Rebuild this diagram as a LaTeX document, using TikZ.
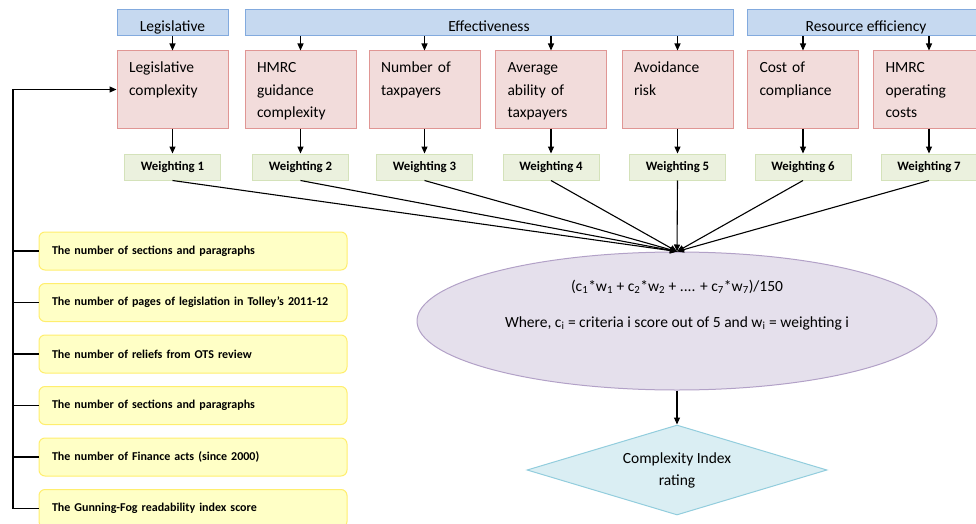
\documentclass[tikz,border=0pt]{standalone}
\usepackage{fontspec}
\setmainfont{Carlito}
\usetikzlibrary{arrows.meta,shapes.geometric}

\definecolor{headfill}{RGB}{198,217,240}
\definecolor{headdraw}{RGB}{130,170,222}
\definecolor{critfill}{RGB}{242,220,219}
\definecolor{critdraw}{RGB}{224,150,148}
\definecolor{weightfill}{RGB}{235,241,222}
\definecolor{weightdraw}{RGB}{212,226,186}
\definecolor{measurefill}{RGB}{255,255,198}
\definecolor{measuredraw}{RGB}{255,238,110}
\definecolor{scorefill}{RGB}{229,224,236}
\definecolor{scoredraw}{RGB}{178,161,199}
\definecolor{ratingfill}{RGB}{218,238,243}
\definecolor{ratingdraw}{RGB}{146,205,221}

\tikzset{
  header/.style={draw=headdraw, fill=headfill, line width=1pt, minimum height=26pt,
    inner sep=0pt, text height=20pt, text depth=2pt, font=\fontsize{15.5}{19}\selectfont},
  crit/.style={draw=critdraw, fill=critfill, line width=1pt, minimum width=111pt,
    minimum height=77pt, text width=87pt, inner xsep=12pt, inner ysep=6pt, align=left,
    text height=16pt, text depth=49pt, font=\fontsize{15.5}{22.5}\selectfont},
  weight/.style={draw=weightdraw, fill=weightfill, line width=1pt, minimum width=96pt,
    minimum height=26pt, inner sep=0pt, font=\bfseries\fontsize{12.8}{15}\selectfont},
  measure/.style={draw=measuredraw, fill=measurefill, line width=1pt, rounded corners=6pt,
    minimum width=308pt, minimum height=38pt, text width=282pt, inner xsep=13pt,
    align=left, font=\bfseries\fontsize{12}{14}\selectfont},
  link/.style={line width=1.1pt, ->}
}

\begin{document}
\begin{tikzpicture}[x=1pt, y=-1pt, >={Triangle[length=7pt,width=6pt]}]
    \useasboundingbox (0,0) rectangle (976,524);

    % criteria
    \node[crit] at (172.5, 89.5) (c1) {Legislative\\complexity};
    \node[crit] at (300.5, 89.5) (c2) {HMRC\\guidance\\complexity};
    \node[crit] at (424.5, 89.5) (c3) {Number of\\taxpayers};
    \node[crit] at (551, 89.5) (c4) {Average\\ability of\\taxpayers};
    \node[crit] at (677.5, 89.5) (c5) {Avoidance\\risk};
    \node[crit] at (803, 89.5) (c6) {Cost of\\compliance};
    \node[crit] at (929, 89.5) (c7) {HMRC\\operating\\costs};

    % groups
    \node[header, minimum width=111pt] at (172.5, 23) (legis) {Legislative};
    \node[header, minimum width=488pt] at (489, 23) (effect) {Effectiveness};
    \node[header, minimum width=238pt] at (866, 23) (resource) {Resource efficiency};

    % weightings
    \node[weight] at (172.5, 167) (w1) {Weighting 1};
    \node[weight] at (300.5, 167) (w2) {Weighting 2};
    \node[weight] at (424.5, 167) (w3) {Weighting 3};
    \node[weight] at (551, 167) (w4) {Weighting 4};
    \node[weight] at (677.5, 167) (w5) {Weighting 5};
    \node[weight] at (803, 167) (w6) {Weighting 6};
    \node[weight] at (929, 167) (w7) {Weighting 7};

    % index
    \node[ellipse, draw=scoredraw, fill=scorefill, line width=1pt, minimum width=520pt,
      minimum height=138pt, inner sep=0pt] at (677, 321) (score) {};
    \node[align=center, font=\fontsize{15.5}{19}\selectfont] at (677, 305) (formula)
      {(c\textsubscript{1}*w\textsubscript{1} + c\textsubscript{2}*w\textsubscript{2} + .... + c\textsubscript{7}*w\textsubscript{7})/150\\[17pt]
       Where, c\textsubscript{i} = criteria i score out of 5 and w\textsubscript{i} = weighting i};
    \node[diamond, aspect=3.3, draw=ratingdraw, fill=ratingfill, line width=1pt,
      minimum width=300pt, minimum height=90pt, inner sep=0pt, align=center,
      font=\fontsize{15.5}{22}\selectfont] at (677, 470) (rating) {Complexity Index\\rating};

    % legislative measures
    \node[measure] at (193, 251) (t1) {The number of sections and paragraphs};
    \node[measure] at (193, 302.5) (t2) {The number of pages of legislation in Tolley’s 2011-12};
    \node[measure] at (193, 354) (t3) {The number of reliefs from OTS review};
    \node[measure] at (193, 405.5) (t4) {The number of sections and paragraphs};
    \node[measure] at (193, 457) (t5) {The number of Finance acts (since 2000)};
    \node[measure] at (193, 508.5) (t6) {The Gunning-Fog readability index score};
    \coordinate (spine) at (13, 89.5);

    \path[link]
    (c1.north |- legis.south) edge (c1.north)
    (c2.north |- effect.south) edge (c2.north)
    (c3.north |- effect.south) edge (c3.north)
    (c4.north |- effect.south) edge (c4.north)
    (c5.north |- effect.south) edge (c5.north)
    (c6.north |- resource.south) edge (c6.north)
    (c7.north |- resource.south) edge (c7.north)
    (c1) edge (w1)
    (c2) edge (w2)
    (c3) edge (w3)
    (c4) edge (w4)
    (c5) edge (w5)
    (c6) edge (w6)
    (c7) edge (w7)
    (w1.south) edge (score.north)
    (w2.south) edge (score.north)
    (w3.south) edge (score.north)
    (w4.south) edge (score.north)
    (w5.south) edge (score.north)
    (w6.south) edge (score.north)
    (w7.south) edge (score.north)
    (score) edge (rating);

    \draw[link] (t6.west) -| (spine) -- (c1.west);
    \draw[line width=1.1pt]
    (t1.west) -- (t1.west -| spine)
    (t2.west) -- (t2.west -| spine)
    (t3.west) -- (t3.west -| spine)
    (t4.west) -- (t4.west -| spine)
    (t5.west) -- (t5.west -| spine);
\end{tikzpicture}
\end{document}
